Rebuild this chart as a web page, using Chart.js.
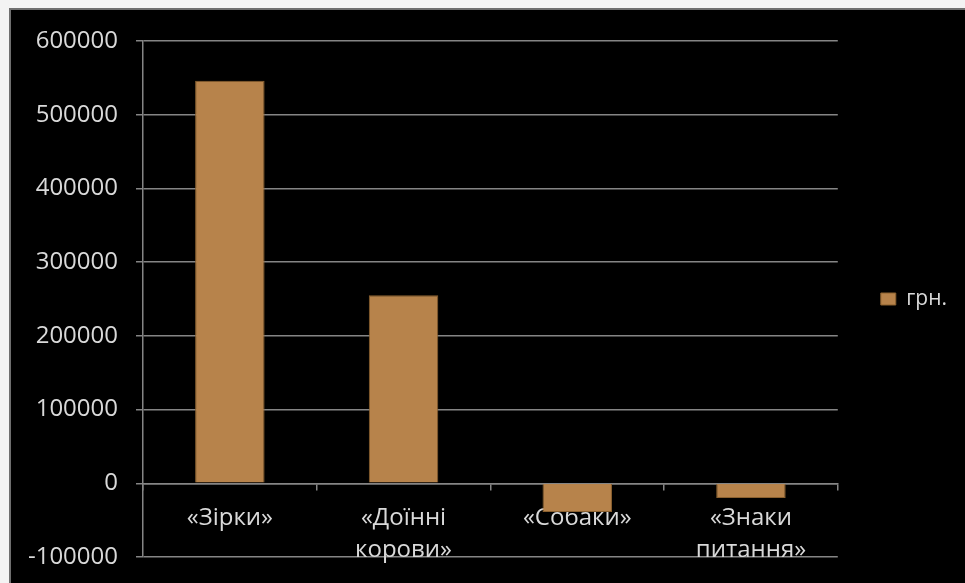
<!DOCTYPE html>
<html>
<head>
<meta charset="utf-8">
<script src="https://cdn.jsdelivr.net/npm/chart.js@4"></script>
<style>
  html, body { margin: 0; padding: 0; background: #f3f3f3; }
  #frame {
    position: absolute; left: 9px; top: 8px;
    width: 954px; height: 573px;
    background: #000;
    border-left: 2px solid #6f6f6f;
    border-top: 2px solid #6f6f6f;
  }
</style>
</head>
<body>
<div id="frame"><canvas id="chart" width="954" height="573"></canvas></div>
<script>
// categories and values (грн.)
const categories = ["«Зірки»", ["«Доїнні", "корови»"], "«Собаки»", ["«Знаки", "питання»"]];
const seriesName = "грн.";
const values = [546000, 255000, -39000, -20000];
const yTicks = [-100000, 0, 100000, 200000, 300000, 400000, 500000, 600000];

const textColor = "#d9d9d9";
const gridColor = "#858585";
const barColor = "#b7834b";

function noPad(scale) {
  scale.paddingTop = 0;
  scale.paddingBottom = 0;
}

new Chart(document.getElementById("chart"), {
  type: "bar",
  data: {
    labels: categories,
    datasets: [{
      label: seriesName,
      data: values,
      backgroundColor: barColor,
      borderColor: "#8a602f",
      borderWidth: 1,
      barPercentage: 0.4,
      categoryPercentage: 1
    }]
  },
  options: {
    responsive: false,
    animation: false,
    layout: { padding: { top: 31, bottom: 26, left: 0, right: 8 } },
    plugins: {
      tooltip: { enabled: false },
      legend: {
        position: "right",
        labels: {
          color: textColor,
          font: { family: "Open Sans", size: 21 },
          boxWidth: 15,
          boxHeight: 12,
          padding: 43
        }
      }
    },
    scales: {
      x: {
        position: { y: 0 },
        afterFit: noPad,
        grid: { drawOnChartArea: false, drawTicks: true, tickLength: 6, color: gridColor, lineWidth: 1.5 },
        border: { display: true, color: gridColor, width: 1.5 },
        ticks: {
          color: textColor,
          padding: 13,
          maxRotation: 0,
          autoSkip: false,
          font: { family: "Open Sans", size: 24, lineHeight: 1.33 }
        }
      },
      y: {
        min: yTicks[0],
        max: yTicks[yTicks.length - 1],
        afterFit(scale) { scale.width = 132; noPad(scale); },
        afterBuildTicks(scale) { scale.ticks = yTicks.map(v => ({ value: v })); },
        grid: { color: gridColor, lineWidth: 1.5, tickLength: 7 },
        border: { display: true, color: gridColor, width: 1.5 },
        ticks: {
          color: textColor,
          padding: 18,
          font: { family: "Open Sans", size: 24 },
          callback: v => String(v)
        }
      }
    }
  }
});
</script>
</body>
</html>
